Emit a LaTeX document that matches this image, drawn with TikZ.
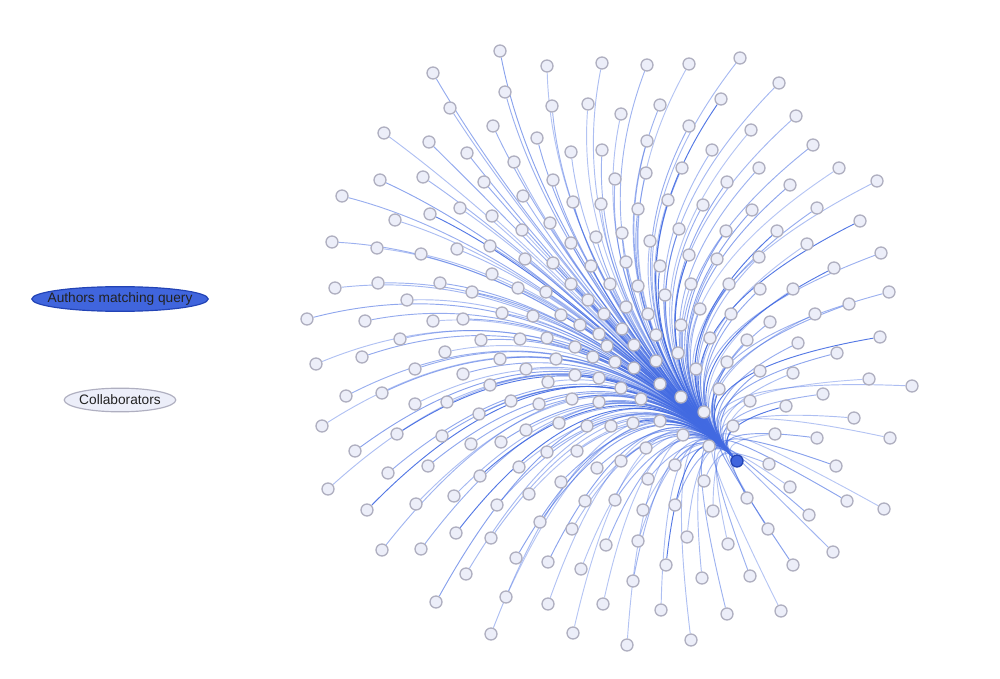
\documentclass[tikz,border=0pt]{standalone}
\usepackage{fontspec}
\setmainfont{Liberation Sans}
\usetikzlibrary{shapes.geometric, backgrounds, calc}

\definecolor{linkblue}{HTML}{4169E1}
\definecolor{authorblue}{HTML}{4065DD}
\definecolor{authorline}{HTML}{2243B5}
\definecolor{nodefill}{HTML}{ECEEF9}
\definecolor{nodegray}{HTML}{AFAFC0}
\definecolor{labeltext}{HTML}{222222}

% positions of the collaborators (px, y down)
\def\collabs{
  500/51, 433/73, 505/92, 450/108, 493/126, 384/133, 429/142, 467/153,
  380/180, 423/177, 484/182, 342/196, 460/208, 430/214, 492/216, 395/220,
  332/242, 377/248, 490/246,
  547/66, 602/63, 647/65, 689/64, 552/106, 588/104, 621/114, 660/105,
  689/126, 537/138, 571/152, 602/150, 647/141, 712/150, 514/162, 553/180,
  615/179, 646/173, 682/168, 523/196, 573/202, 601/204, 638/209, 668/200,
  703/205, 550/223, 522/230, 596/237, 622/233, 679/229, 571/243, 650/241,
  740/58, 779/83, 721/99, 796/116, 751/130, 813/145, 759/168, 839/168,
  727/182, 790/185, 877/181, 752/210, 817/208, 726/231, 777/231, 860/221,
  807/244,
  421/254, 457/249, 492/274, 335/288, 378/283, 440/283, 472/292, 407/300,
  502/313, 307/319, 365/321, 433/321, 463/319, 400/339, 481/340, 445/352,
  500/359, 362/357, 316/364, 415/369, 463/374, 490/385, 346/396, 382/393,
  415/404, 447/402, 511/401, 479/414, 322/426, 397/434, 442/436, 471/444,
  501/442,
  525/259, 553/263, 591/266, 626/262, 660/266, 689/255, 518/288, 546/292,
  571/284, 610/284, 638/286, 665/295, 691/284, 588/300, 626/307, 648/314,
  700/309, 533/316, 561/315, 604/314, 580/325, 622/329, 656/335, 681/325,
  710/338, 520/339, 547/338, 599/334, 575/347, 607/346, 634/345, 678/353,
  556/359, 593/357, 615/362, 656/361, 634/368, 696/369, 526/369, 575/375,
  599/378, 548/382, 621/388, 660/384, 681/397, 539/404, 572/399, 599/402,
  641/399, 704/412, 559/423, 587/426, 611/426, 633/423, 660/421, 526/430,
  683/435, 709/446,
  717/259, 759/257, 881/253, 834/268, 729/284, 760/289, 793/289, 889/292,
  849/304, 731/314, 770/322, 815/314, 747/340, 798/343, 880/337, 837/353,
  727/362, 760/371, 793/373, 869/379, 912/386, 719/389, 823/394, 750/401,
  786/406, 854/418, 733/426, 775/434, 817/438, 890/438,
  355/451, 388/473, 428/466, 328/489, 480/476, 367/510, 416/504, 454/496,
  497/505, 456/533, 491/538, 382/550, 421/549, 466/574, 436/602, 506/597,
  491/634,
  547/452, 577/451, 646/448, 519/467, 597/468, 621/461, 675/465, 561/482,
  648/479, 704/481, 529/494, 585/501, 615/500, 643/510, 675/505, 713/511,
  540/522, 572/529, 606/545, 638/541, 687/537, 516/558, 548/562, 581/569,
  666/565, 633/581, 702/578, 548/604, 603/604, 661/610, 573/633, 627/645,
  691/640,
  769/464, 836/466, 790/487, 847/501, 884/509, 747/498, 809/515, 768/529,
  728/544, 833/552, 793/565, 750/576, 727/614, 781/611}

\begin{document}
\begin{tikzpicture}[
    x=0.03cm, y=-0.03cm,
    every node/.style={font=\fontsize{11.7}{14}\selectfont, text=labeltext},
    collab/.style={circle, draw=nodegray, fill=nodefill, line width=1.1pt,
                   minimum size=0.36cm, inner sep=0pt},
    author/.style={collab, draw=authorline, fill=authorblue},
    legend/.style={ellipse, line width=1pt},
    link/.style={draw=linkblue, line width=0.8pt}
  ]
    \useasboundingbox (0,0) rectangle (1000,679);

    % legend
    \node[legend, draw=authorline, fill=authorblue,
          inner xsep=-0.3cm, inner ysep=0.07cm] (lauthors) at (120,299)
          {Authors matching query};
    \node[legend, draw=nodegray, fill=nodefill,
          inner xsep=-0.04cm, inner ysep=0.1cm] (lcollab) at (120,400)
          {Collaborators};

    % the queried author
    \node[author] (hub) at (737,461) {};

    \foreach \x/\y [count=\i] in \collabs {
      \node[collab] (c\i) at (\x,\y) {};
      \xdef\ncollab{\i}
    }

    % links leave the author towards the upper left, then swing out
    \pgfmathsetseed{11}
    \begin{scope}[on background layer]
      \foreach \i in {1,...,\ncollab} {
        \pgfmathsetmacro\op{rnd>0.9 ? 0.9 : 0.38+0.25*rnd}
        \draw[link, draw opacity=\op]
          let \p1 = ($(c\i)-(hub)$), \n1 = {veclen(\x1,\y1)} in
          (hub) .. controls ($(hub)+({-0.28*\n1},{0.3*\n1})$)
                and ($(c\i)!2/3!(hub)+({-0.28*\n1},{0.3*\n1})$) .. (c\i);
      }
    \end{scope}
\end{tikzpicture}
\end{document}
